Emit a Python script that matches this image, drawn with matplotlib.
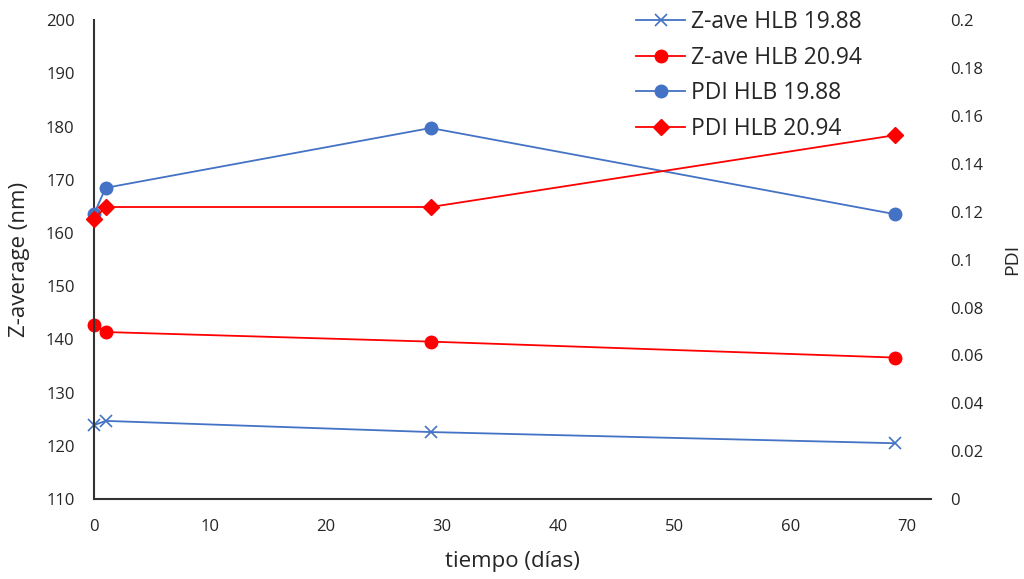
import matplotlib.pyplot as plt

plt.rcParams['font.family'] = ['Open Sans', 'DejaVu Sans']

# measurement days
dias = [0, 1, 29, 69]

# Z-average size (nm), left axis
zave_1988 = [123.9, 124.7, 122.6, 120.5]
zave_2094 = [142.8, 141.4, 139.6, 136.6]

# polydispersity index, right axis
pdi_1988 = [0.119, 0.130, 0.155, 0.119]
pdi_2094 = [0.117, 0.122, 0.122, 0.152]

azul = '#4472C4'
rojo = '#FF0000'
gris = '#262626'

fig = plt.figure(figsize=(10.24, 5.79), dpi=100)
ax = fig.add_axes([0.0918, 0.138, 0.8174, 0.827])
ax2 = ax.twinx()

l1, = ax.plot(dias, zave_1988, color=azul, lw=1.3, marker='x', ms=8, mew=1.2,
              label='Z-ave HLB 19.88', clip_on=False)
l2, = ax.plot(dias, zave_2094, color=rojo, lw=1.3, marker='o', ms=9,
              label='Z-ave HLB 20.94', clip_on=False)
l3, = ax2.plot(dias, pdi_1988, color=azul, lw=1.3, marker='o', ms=9,
               label='PDI HLB 19.88', clip_on=False)
l4, = ax2.plot(dias, pdi_2094, color=rojo, lw=1.3, marker='D', ms=8,
               label='PDI HLB 20.94', clip_on=False)

ax.set_xlim(0, 72.1)
ax.set_xticks(range(0, 71, 10))
ax.set_ylim(110, 200)
ax.set_yticks(range(110, 201, 10))
ax2.set_ylim(0, 0.2)
ax2.set_yticks([0, 0.02, 0.04, 0.06, 0.08, 0.1, 0.12, 0.14, 0.16, 0.18, 0.2])
ax2.set_yticklabels(['0', '0.02', '0.04', '0.06', '0.08', '0.1', '0.12',
                     '0.14', '0.16', '0.18', '0.2'])

for a in (ax, ax2):
    for s in ('top', 'right'):
        a.spines[s].set_visible(False)
ax2.spines['left'].set_visible(False)
ax2.spines['bottom'].set_visible(False)
for s in ('left', 'bottom'):
    ax.spines[s].set_color('#333333')
    ax.spines[s].set_linewidth(1.5)

ax.tick_params(axis='both', length=0, labelsize=12, labelcolor=gris, pad=14)
ax2.tick_params(axis='y', length=0, labelsize=12, labelcolor=gris, pad=14)

ax.set_xlabel('tiempo (días)', fontsize=16, color=gris, labelpad=12)
ax.set_ylabel('Z-average (nm)', fontsize=16, color=gris)
ax.yaxis.set_label_coords(-0.076, 0.5)
ax2.set_ylabel('PDI', fontsize=14, color=gris, labelpad=14)

fig.legend(handles=[l1, l2, l3, l4], loc='upper left',
           bbox_to_anchor=(0.601, 1.018), frameon=False, fontsize=16.5,
           handlelength=2.15, handletextpad=0.25, labelspacing=0.5,
           labelcolor=gris)

fig.savefig('out.png', dpi=100)
